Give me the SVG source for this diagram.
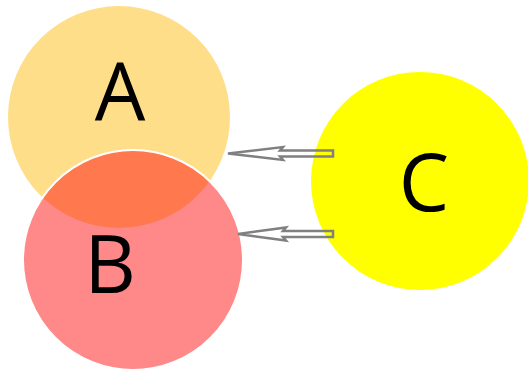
<svg xmlns="http://www.w3.org/2000/svg" width="528" height="371" viewBox="0 0 528 371">
<style>
.lbl{font-family:"Open Sans","Noto Sans","Liberation Sans",sans-serif;font-size:80px;fill:#000;text-anchor:middle}
.arr{fill:none;stroke:#808080;stroke-width:2.5;stroke-linejoin:miter}
</style>
<rect width="528" height="371" fill="#fff"/>
<g id="A">
<circle cx="119" cy="117" r="111" fill="#FFDE8A"/>
<text class="lbl" x="120" y="120">A</text>
</g>
<g id="B">
<circle cx="133" cy="260" r="110" fill="#FF1111" fill-opacity="0.5" stroke="#fff" stroke-width="2"/>
<text class="lbl" x="110" y="293">B</text>
</g>
<g id="C">
<circle cx="420" cy="181" r="109" fill="#FFFF00"/>
<text class="lbl" x="424" y="211">C</text>
</g>
<g id="connectors">
<path class="arr" d="M228,153.5 L283,147 L280,150.5 L333,150.5 L333,156.5 L280,156.5 L283,160 Z"/>
<path class="arr" d="M238,234 L286,227.5 L283,231 L333,231 L333,237 L283,237 L286,240.5 Z"/>
</g>
</svg>
